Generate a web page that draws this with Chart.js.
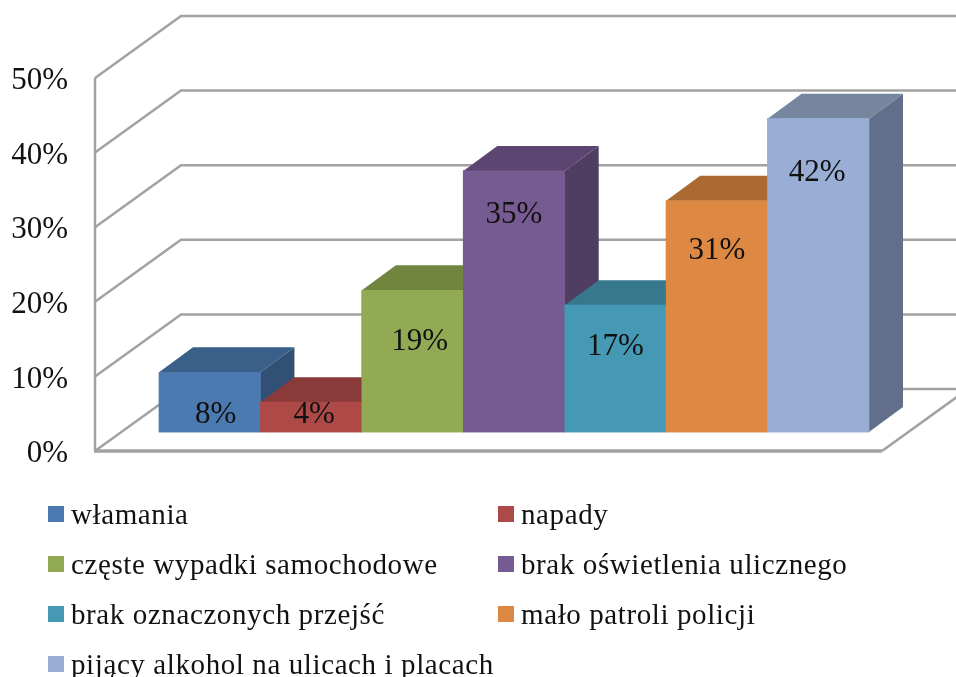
<!DOCTYPE html>
<html lang="pl">
<head>
<meta charset="utf-8">
<title>Wykres</title>
<script src="https://cdn.jsdelivr.net/npm/chart.js@4/dist/chart.umd.min.js"></script>
<style>
  html, body { margin: 0; padding: 0; background: #fff; overflow: hidden; }
  #wrap { position: relative; width: 956px; height: 677px; }
  #chart { position: absolute; left: 0; top: 0; }
  #legend { position: absolute; left: 48px; top: 489px; display: grid; grid-template-columns: 450px 450px; grid-auto-rows: 50px;
    font: 29px "Liberation Serif", serif; color: #111; letter-spacing: 0.6px; white-space: nowrap; }
  #legend div { display: flex; align-items: center; height: 50px; }
  #legend i { display: block; width: 16px; height: 16px; margin-right: 7px; flex: none; }
</style>
</head>
<body>
<div id="wrap">
  <canvas id="chart" width="956" height="677"></canvas>
  <div id="legend"></div>
</div>
<script>
  const categories = ['2010'];
  const seriesNames = [
    'włamania',
    'napady',
    'częste wypadki samochodowe',
    'brak oświetlenia ulicznego',
    'brak oznaczonych przejść',
    'mało patroli policji',
    'pijący alkohol na ulicach i placach',
  ];
  const seriesValues = [8, 4, 19, 35, 17, 31, 42];

  const frontColors = ['#4a7ab0', '#ad4a48', '#93aa54', '#765a92', '#4699b4', '#dd8943', '#98aed4'];
  const topColors = ['#3a5f88', '#8a3a39', '#72853f', '#5c4671', '#37788c', '#ab6a32', '#76869f'];
  const sideColors = ['#325073', '#763230', '#617136', '#4f3d62', '#306a7c', '#965d2c', '#626f8a'];

  // przesuniecia etykiet wzgledem slupka (x od srodka, y od gory)
  const labelShiftX = [6, 3, 7, 0, 0, 0, -1];
  const labelShiftY = [43, 13, 52, 44, 42, 50, 54];

  // glebokosc sciany wykresu i glebokosc slupka
  const wallDepth = { x: 86, y: -62 };
  const barDepth = { x: 34, y: -25 };
  const wallLeft = 95;
  const floorRight = 882;
  const gridColor = '#a2a2a2';

  Chart.defaults.font.family = '"Liberation Serif", serif';

  const wallPlugin = {
    id: 'wall3d',
    beforeDatasetsDraw(chart) {
      const { ctx, scales, width } = chart;
      const y0 = scales.y.getPixelForValue(0);
      ctx.save();
      ctx.strokeStyle = gridColor;
      ctx.lineWidth = 2.5;
      ctx.lineJoin = 'miter';
      scales.y.ticks.forEach((tick) => {
        const y = scales.y.getPixelForValue(tick.value);
        ctx.beginPath();
        ctx.moveTo(wallLeft, y);
        ctx.lineTo(wallLeft + wallDepth.x, y + wallDepth.y);
        ctx.lineTo(width, y + wallDepth.y);
        ctx.stroke();
      });
      // os pionowa
      ctx.beginPath();
      ctx.moveTo(wallLeft, scales.y.getPixelForValue(50));
      ctx.lineTo(wallLeft, y0);
      ctx.stroke();
      // podloga
      ctx.lineWidth = 3.5;
      ctx.beginPath();
      ctx.moveTo(wallLeft - 1, y0);
      ctx.lineTo(floorRight, y0);
      ctx.stroke();
      ctx.lineWidth = 2.5;
      ctx.beginPath();
      ctx.moveTo(floorRight, y0);
      ctx.lineTo(floorRight + wallDepth.x, y0 + wallDepth.y);
      ctx.stroke();
      ctx.restore();
    },
    // biblioteka rysuje serie od konca, a slupki musza zachodzic od lewej,
    // wiec tu jeszcze raz idziemy po kolei: boki, gora, przod
    afterDatasetsDraw(chart) {
      const { ctx } = chart;
      const metas = chart.getSortedVisibleDatasetMetas();
      ctx.save();
      metas.forEach((meta) => {
        const i = meta.index;
        const bar = meta.data[0];
        const left = bar.x - bar.width / 2;
        const right = bar.x + bar.width / 2;
        ctx.fillStyle = sideColors[i];
        ctx.beginPath();
        ctx.moveTo(right, bar.y);
        ctx.lineTo(right + barDepth.x, bar.y + barDepth.y);
        ctx.lineTo(right + barDepth.x, bar.base + barDepth.y);
        ctx.lineTo(right, bar.base);
        ctx.closePath();
        ctx.fill();
        ctx.fillStyle = topColors[i];
        ctx.beginPath();
        ctx.moveTo(left, bar.y);
        ctx.lineTo(left + barDepth.x, bar.y + barDepth.y);
        ctx.lineTo(right + barDepth.x, bar.y + barDepth.y);
        ctx.lineTo(right, bar.y);
        ctx.closePath();
        ctx.fill();
        bar.draw(ctx);
      });
      ctx.font = '31px "Liberation Serif", serif';
      ctx.fillStyle = '#111';
      ctx.textAlign = 'center';
      ctx.textBaseline = 'middle';
      metas.forEach((meta) => {
        const i = meta.index;
        const bar = meta.data[0];
        ctx.fillText(seriesValues[i] + '%', bar.x + labelShiftX[i], bar.y + labelShiftY[i]);
      });
      ctx.restore();
    },
  };

  const chart = new Chart(document.getElementById('chart'), {
    type: 'bar',
    data: {
      labels: categories,
      datasets: seriesNames.map((name, i) => ({
        label: name,
        data: [seriesValues[i]],
        backgroundColor: frontColors[i],
        yAxisID: 'yBars',
        barPercentage: 1,
        categoryPercentage: 1,
      })),
    },
    options: {
      responsive: false,
      animation: false,
      layout: { padding: { top: 78, bottom: 226, right: 87, left: 0 } },
      plugins: {
        legend: { display: false },
        tooltip: { enabled: false },
      },
      scales: {
        x: { display: false },
        y: {
          min: 0,
          max: 50,
          afterFit(scale) {
            scale.width = 159;
            scale.paddingTop = 0;
            scale.paddingBottom = 0;
          },
          grid: { display: false },
          border: { display: false },
          ticks: {
            stepSize: 10,
            padding: 83,
            labelOffset: 3,
            color: '#111',
            font: { size: 31 },
            callback: (v) => v + '%',
          },
        },
        // slupki stoja przed sciana, wiec 0 jest o 19px wyzej niz na osi
        yBars: { display: false, min: -2.55, max: 47.45 },
      },
    },
    plugins: [wallPlugin],
  });

  const legendBox = document.getElementById('legend');
  chart.data.datasets.forEach((ds) => {
    const item = document.createElement('div');
    const swatch = document.createElement('i');
    swatch.style.background = ds.backgroundColor;
    item.appendChild(swatch);
    item.appendChild(document.createTextNode(ds.label));
    legendBox.appendChild(item);
  });
</script>
</body>
</html>
